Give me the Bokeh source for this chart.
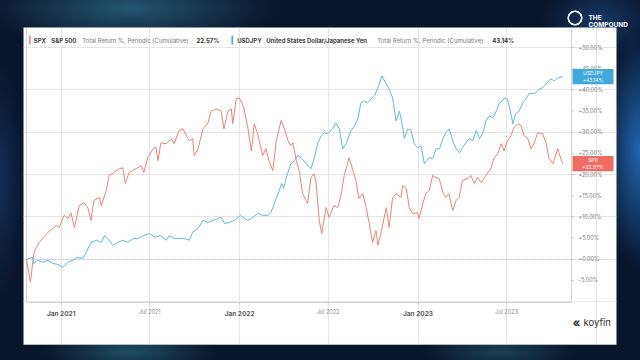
import pandas as pd
from bokeh.plotting import figure
from bokeh.models import (Range1d, LinearAxis, FixedTicker, CustomJSTickFormatter,
                          Label, BoxAnnotation, Title)
from bokeh.embed import file_html
from bokeh.resources import INLINE

# ---------------- data ----------------
spx_dates = ["2020-10-22","2020-10-30","2020-11-06","2020-11-11","2020-11-17","2020-11-24","2020-12-05",
 "2020-12-15","2020-12-22","2020-12-28","2021-01-07","2021-01-15","2021-01-21","2021-01-28","2021-02-07",
 "2021-02-17","2021-02-25","2021-03-03","2021-03-09","2021-03-20","2021-03-24","2021-04-03","2021-04-09",
 "2021-04-19","2021-04-30","2021-05-07","2021-05-12","2021-05-20","2021-06-03","2021-06-14","2021-06-19",
 "2021-06-27","2021-07-08","2021-07-14","2021-07-18","2021-07-24","2021-08-04","2021-08-14","2021-08-20",
 "2021-08-30","2021-09-07","2021-09-14","2021-09-20","2021-09-27","2021-09-30","2021-10-08","2021-10-18",
 "2021-10-28","2021-11-04","2021-11-14","2021-11-24","2021-11-30","2021-12-08","2021-12-15","2021-12-18",
 "2021-12-25","2021-12-31","2022-01-04","2022-01-10","2022-01-18","2022-01-25","2022-01-31","2022-02-07",
 "2022-02-17","2022-02-24","2022-03-02","2022-03-10","2022-03-17","2022-03-27","2022-04-02","2022-04-10",
 "2022-04-16","2022-04-20","2022-04-27","2022-05-03","2022-05-10","2022-05-17","2022-05-20","2022-05-27",
 "2022-06-02","2022-06-06","2022-06-13","2022-06-18","2022-06-27","2022-07-03","2022-07-13","2022-07-21",
 "2022-07-28","2022-08-03","2022-08-13","2022-08-21","2022-08-27","2022-09-02","2022-09-10","2022-09-17",
 "2022-09-23","2022-09-30","2022-10-07","2022-10-11","2022-10-17","2022-10-28","2022-11-03","2022-11-10",
 "2022-11-17","2022-11-27","2022-12-01","2022-12-08","2022-12-14","2022-12-21","2022-12-31","2023-01-03",
 "2023-01-11","2023-01-17","2023-01-24","2023-01-31","2023-02-07","2023-02-13","2023-02-21","2023-02-27",
 "2023-03-05","2023-03-13","2023-03-20","2023-03-26","2023-04-02","2023-04-13","2023-04-19","2023-04-26",
 "2023-05-03","2023-05-10","2023-05-16","2023-05-24","2023-05-30","2023-06-05","2023-06-13","2023-06-20",
 "2023-06-26","2023-07-03","2023-07-10","2023-07-16","2023-07-24","2023-07-31","2023-08-06","2023-08-13",
 "2023-08-20","2023-08-26","2023-09-03","2023-09-13","2023-09-20","2023-09-26","2023-10-04","2023-10-14",
 "2023-10-16","2023-10-24"]
spx_values = [0.0,-5.4,1.4,2.8,4.0,4.9,6.4,
 7.3,8.0,7.5,10.4,9.6,11.0,7.5,12.7,
 13.4,12.0,9.2,13.9,14.6,12.7,16.2,19.8,
 20.5,21.4,21.6,17.9,20.5,21.4,22.1,20.5,
 24.0,26.1,26.4,23.3,27.5,27.3,28.5,27.3,
 30.4,30.8,29.2,28.0,28.5,24.5,26.1,30.8,
 32.2,35.0,35.5,35.0,30.8,35.0,35.5,32.0,
 37.9,38.1,37.4,35.5,31.0,25.6,32.0,29.6,
 24.5,26.1,23.3,20.9,28.0,32.8,31.0,28.0,
 26.8,27.5,23.3,20.9,15.5,13.9,13.2,19.3,
 20.2,18.6,9.2,6.1,12.2,9.9,12.7,12.2,
 15.5,19.8,24.0,20.9,18.6,14.4,15.5,12.2,
 8.5,4.0,6.8,3.3,6.1,12.2,7.5,14.6,
 15.5,14.6,17.4,16.7,12.2,10.8,11.0,9.6,
 13.2,15.5,16.2,19.8,19.3,19.1,15.8,14.6,
 15.5,11.5,13.9,14.6,18.6,19.1,19.8,17.9,
 19.3,18.1,19.1,20.5,21.4,23.8,24.9,27.3,
 25.6,28.0,29.2,31.0,32.0,31.5,29.2,28.7,
 26.1,27.3,29.9,29.6,27.5,23.8,22.6,26.1,
 25.2,22.57]

jpy_dates = ["2020-10-22","2020-11-03","2020-11-06","2020-11-13","2020-11-24","2020-12-05","2020-12-15",
 "2020-12-25","2021-01-04","2021-01-15","2021-01-25","2021-02-04","2021-02-14","2021-02-21","2021-03-03",
 "2021-03-14","2021-03-24","2021-03-31","2021-04-06","2021-04-17","2021-04-27","2021-05-07","2021-05-17",
 "2021-05-28","2021-06-07","2021-06-17","2021-07-01","2021-07-11","2021-07-23","2021-08-04","2021-08-10",
 "2021-08-21","2021-08-31","2021-09-10","2021-09-20","2021-09-27","2021-10-08","2021-10-18","2021-10-28",
 "2021-11-07","2021-11-17","2021-11-24","2021-12-01","2021-12-11","2021-12-21","2022-01-03","2022-01-08",
 "2022-01-18","2022-01-28","2022-02-07","2022-02-17","2022-02-28","2022-03-06","2022-03-17","2022-03-23",
 "2022-03-28","2022-04-01","2022-04-06","2022-04-16","2022-04-23","2022-04-30","2022-05-07","2022-05-17",
 "2022-05-27","2022-06-03","2022-06-10","2022-06-17","2022-06-23","2022-06-30","2022-07-11","2022-07-17",
 "2022-07-24","2022-07-31","2022-08-07","2022-08-17","2022-08-24","2022-08-31","2022-09-06","2022-09-13",
 "2022-09-20","2022-09-27","2022-10-04","2022-10-11","2022-10-19","2022-10-28","2022-11-03","2022-11-10",
 "2022-11-17","2022-11-24","2022-12-01","2022-12-04","2022-12-11","2022-12-18","2022-12-24","2022-12-31",
 "2023-01-07","2023-01-14","2023-01-24","2023-01-31","2023-02-07","2023-02-14","2023-02-21","2023-02-27",
 "2023-03-06","2023-03-13","2023-03-20","2023-03-27","2023-04-02","2023-04-09","2023-04-16","2023-04-23",
 "2023-04-30","2023-05-07","2023-05-14","2023-05-20","2023-05-27","2023-06-03","2023-06-10","2023-06-16",
 "2023-06-27","2023-07-03","2023-07-10","2023-07-14","2023-07-20","2023-07-27","2023-08-03","2023-08-10",
 "2023-08-17","2023-08-23","2023-08-30","2023-09-06","2023-09-13","2023-09-20","2023-09-30","2023-10-07",
 "2023-10-14","2023-10-24"]
jpy_values = [0.0,0.5,-1.0,-0.2,-0.7,-0.2,-1.0,
 -1.2,-1.9,-0.7,-0.2,0.5,0.2,1.6,4.0,
 4.5,4.0,5.6,4.9,3.3,4.0,4.5,4.0,
 4.9,4.9,5.6,6.1,5.2,5.6,4.5,5.6,
 4.9,4.9,4.9,4.5,6.4,7.3,9.2,8.7,
 9.2,9.6,9.9,8.5,8.7,9.2,10.4,9.9,
 9.2,9.9,10.8,10.4,10.4,11.0,14.4,16.2,
 17.9,16.7,19.1,22.6,23.3,24.5,24.0,22.6,
 21.4,24.0,27.5,29.2,29.9,29.6,31.0,32.2,
 30.8,26.1,27.3,30.4,31.5,33.2,36.9,37.4,
 36.9,37.9,38.6,40.5,43.3,41.4,40.2,38.1,
 32.7,35.0,31.0,28.5,30.8,30.4,27.3,26.4,
 26.8,22.6,24.0,23.8,26.1,26.1,28.5,29.9,
 30.8,28.0,26.1,25.2,26.4,27.5,28.5,28.0,
 30.4,28.5,29.9,32.7,33.9,33.4,35.0,36.7,
 38.1,37.9,34.4,32.0,34.4,35.0,36.9,37.9,
 39.3,39.1,39.3,40.2,40.5,41.4,42.6,42.1,
 42.8,43.14]

x_tick_dates = ["2021-01-01", "2021-07-01", "2022-01-01", "2022-07-01", "2023-01-01", "2023-07-01"]
x_tick_labels = ["Jan 2021", "Jul 2021", "Jan 2022", "Jul 2022", "Jan 2023", "Jul 2023"]
y_ticks = [-5, 0, 5, 10, 15, 20, 25, 30, 35, 40, 45, 50]

spx_name, spx_desc = "SPX", "S&P 500"
jpy_name, jpy_desc = "USDJPY", "United States Dollar/Japanese Yen"
metric = "Total Return %, Periodic (Cumulative)"

# inner chart window (date / percent extents of the plotted area)
win_x0, win_x1 = pd.Timestamp("2020-10-22"), pd.Timestamp("2023-11-11")
win_y0, win_y1 = -10.2, 54.5

# ---------------- layout constants (pixels) ----------------
W, H = 640, 360
PAN_L, PAN_R, PAN_T, PAN_B = 23, 616, 27, 344      # white card = plot frame
WIN_L, WIN_R, WIN_T, WIN_B = 26, 571, 28, 302      # chart window inside the card

BG = "#08142a"
RED = "#ea8379"
BLUE = "#62b8da"
RED_BOX = "#ee6d62"
BLUE_BOX = "#3fa9d9"
TICK = "#bdbdbd"
EDGE = "#d4d4d4"
FONT = "Inter"

# extend ranges so the chart window lands on its pixels inside the card
dpx = (win_x1 - win_x0) / (WIN_R - WIN_L)
ypx = (win_y1 - win_y0) / (WIN_B - WIN_T)
x_range = Range1d(win_x0 - dpx * (WIN_L - PAN_L), win_x1 + dpx * (PAN_R - WIN_R))
y_range = Range1d(win_y0 - ypx * (PAN_B - WIN_B), win_y1 + ypx * (WIN_T - PAN_T))

p = figure(width=W, height=H, output_backend="svg", toolbar_location=None,
           x_axis_location=None, y_axis_location=None, title_location=None,
           x_range=x_range, y_range=y_range,
           min_border_left=PAN_L, min_border_right=W - PAN_R,
           min_border_top=PAN_T, min_border_bottom=H - PAN_B)
p.border_fill_color = None          # page background (dark, with glows) shows through
p.background_fill_color = "white"
p.outline_line_color = None

# chart window outline (left, right, bottom edges)
p.segment(x0=[win_x0, win_x1, win_x0], x1=[win_x0, win_x1, win_x1],
          y0=[win_y0, win_y0, win_y0], y1=[win_y1, win_y1, win_y0],
          line_color=EDGE, line_width=1)

# zero line
p.segment(x0=[win_x0], x1=[win_x1], y0=[0], y1=[0], line_color="#c8c8c8",
          line_dash="2 2", line_width=1)

# series
p.line(pd.to_datetime(spx_dates), spx_values, line_color=RED, line_width=1.0)
p.line(pd.to_datetime(jpy_dates), jpy_values, line_color=BLUE, line_width=1.0)

# small tick marks just outside the chart window (2 px long)
tick_ts = [pd.Timestamp(d) for d in x_tick_dates]
p.segment(x0=[win_x1] * len(y_ticks), x1=[win_x1 + 2 * dpx] * len(y_ticks),
          y0=y_ticks, y1=y_ticks, line_color=TICK, line_width=1)
p.segment(x0=tick_ts, x1=tick_ts, y0=[win_y0] * len(tick_ts),
          y1=[win_y0 - 2 * ypx] * len(tick_ts), line_color=TICK, line_width=1)

# right y axis (labels pulled in next to the chart window)
yax = LinearAxis(ticker=FixedTicker(ticks=y_ticks),
                 formatter=CustomJSTickFormatter(code="return (tick >= 0 ? '+' : '') + tick.toFixed(2) + '%';"),
                 axis_line_color=None, major_tick_line_color=None,
                 major_tick_in=0, major_tick_out=0, minor_tick_line_color=None,
                 major_label_text_font=FONT, major_label_text_font_size="5.5px",
                 major_label_text_color="#7c7c7c", major_label_standoff=(WIN_R + 7) - PAN_R)
p.add_layout(yax, "right")

tick_vals = [t.value // 10**6 for t in tick_ts]
jul_labels = [l if l.startswith("Jul") else "" for l in x_tick_labels]
jan_labels = [l if l.startswith("Jan") else "" for l in x_tick_labels]
fmt_code = "const i = tk.indexOf(tick); return i >= 0 ? lbl[i] : '';"

xax1 = LinearAxis(ticker=FixedTicker(ticks=tick_vals),
                  formatter=CustomJSTickFormatter(args=dict(tk=tick_vals, lbl=jul_labels), code=fmt_code),
                  axis_line_color=None, major_tick_line_color=None,
                  major_tick_in=0, major_tick_out=0, minor_tick_line_color=None,
                  major_label_text_font=FONT, major_label_text_font_size="5.5px",
                  major_label_text_color="#8a8a8a", major_label_standoff=(WIN_B + 6) - PAN_B)
p.add_layout(xax1, "below")
xax2 = LinearAxis(ticker=FixedTicker(ticks=tick_vals),
                  formatter=CustomJSTickFormatter(args=dict(tk=tick_vals, lbl=jan_labels), code=fmt_code),
                  axis_line_color=None, major_tick_line_color=None,
                  major_tick_in=0, major_tick_out=0, minor_tick_line_color=None,
                  major_label_text_font=FONT, major_label_text_font_size="6.5px",
                  major_label_text_font_style="bold",
                  major_label_text_color="#5a5a5a", major_label_standoff=(WIN_B + 7) - PAN_B)
p.add_layout(xax2, "below")

def lab(x, y, text, size, color, bold=False, align="left", baseline="middle", font=FONT,
        xu="canvas", yu="canvas"):
    p.add_layout(Label(x=x, y=y, x_units=xu, y_units=yu, text=text, text_font=font,
                       text_font_size=f"{size}px", text_color=color,
                       text_font_style="bold" if bold else "normal",
                       text_align=align, text_baseline=baseline))

def cbox(l, r, t, b, color):
    p.add_layout(BoxAnnotation(left=l, right=r, top=t, bottom=b,
                               left_units="canvas", right_units="canvas",
                               top_units="canvas", bottom_units="canvas",
                               fill_color=color, fill_alpha=1.0, line_color=None))

# legend row
LY = 39.5
cbox(28.6, 30.2, 35, 44, RED)
lab(33.3, LY, spx_name, 6, "#444444", bold=True)
lab(50.7, LY, spx_desc, 6, "#444444", bold=True)
lab(81.7, LY, metric, 6, "#7a7a7a")
lab(196, LY, f"{spx_values[-1]:.2f}%", 6, "#333333", bold=True)
cbox(231, 232.6, 35, 44, BLUE_BOX)
lab(236.7, LY, jpy_name, 6, "#444444", bold=True)
lab(265.7, LY, jpy_desc, 6, "#444444", bold=True)
lab(376.7, LY, metric, 6, "#7a7a7a")
lab(491.7, LY, f"{jpy_values[-1]:.2f}%", 6, "#333333", bold=True)

# end-value boxes
for name, vals, col in [(jpy_name, jpy_values, BLUE_BOX), (spx_name, spx_values, RED_BOX)]:
    v = vals[-1]
    p.add_layout(BoxAnnotation(left=WIN_R + 1, right=WIN_R + 42, top=v + 1.8, bottom=v - 1.8,
                               left_units="canvas", right_units="canvas",
                               fill_color=col, fill_alpha=1.0, line_color=None))
    lab(WIN_R + 21.5, v + 0.85, name, 5, "white", align="center", yu="data")
    lab(WIN_R + 21.5, v - 0.85, f"+{v:.2f}%", 5, "white", align="center", yu="data")

# koyfin mark
lab(576, 322, "«", 12, "#333333", bold=True, align="center")
lab(583, 322, "koyfin", 9.5, "#333333")

# The Compound mark (above the card)
p.add_layout(Title(text="COMPOUND", align="left", offset=588 - PAN_L, standoff=-3,
                   text_font=FONT, text_font_size="6.5px", text_font_style="bold",
                   text_color="white"), "above")
p.add_layout(Title(text="THE", align="left", offset=588 - PAN_L, standoff=-2,
                   text_font=FONT, text_font_size="6.5px", text_font_style="bold",
                   text_color="white"), "above")

page_bg = ("radial-gradient(circle 8px at 575px 18px, rgba(0,0,0,0) 5.5px, rgba(255,255,255,0.95) 6px,"
           " rgba(255,255,255,0.95) 7.3px, rgba(0,0,0,0) 7.8px),"
           "radial-gradient(ellipse 150px 40px at 130px 8px, rgba(60,140,170,0.55), rgba(60,140,170,0) 100%),"
           "radial-gradient(ellipse 40px 120px at 640px 150px, rgba(40,130,220,0.75), rgba(40,130,220,0) 100%),"
           "radial-gradient(ellipse 90px 22px at 130px 352px, rgba(60,150,170,0.45), rgba(60,150,170,0) 100%),"
           "radial-gradient(ellipse 80px 20px at 500px 352px, rgba(60,150,170,0.35), rgba(60,150,170,0) 100%),"
           "radial-gradient(ellipse 60px 40px at 600px 20px, rgba(40,100,170,0.45), rgba(40,100,170,0) 100%),"
           "radial-gradient(ellipse 25px 120px at 0px 180px, rgba(30,80,140,0.45), rgba(30,80,140,0) 100%),"
           + BG)
html = file_html(p, INLINE, title="chart")
html = html.replace("<head>", "<head><style>html,body{margin:0;padding:0;overflow:hidden;"
                    "width:640px;height:360px;background:%s;}</style>" % page_bg, 1)
open("out.html", "w").write(html)
